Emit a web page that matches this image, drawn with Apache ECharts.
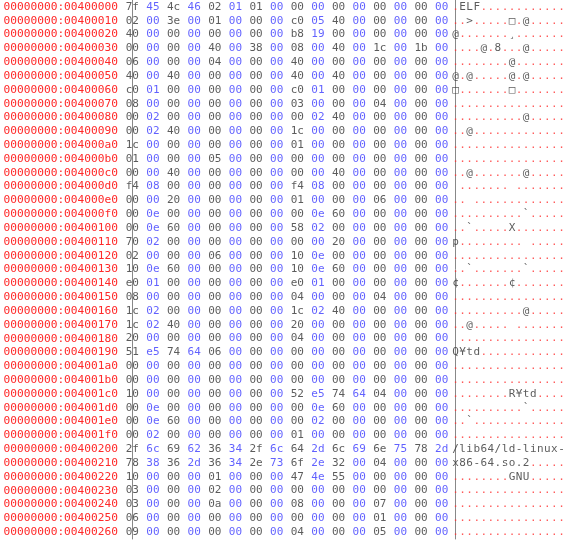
<!DOCTYPE html>
<html><head><meta charset="utf-8">
<script src="https://cdn.jsdelivr.net/npm/echarts@6/dist/echarts.min.js"></script>
<style>html,body{margin:0;padding:0;background:#fff}#c{width:567px;height:540px}</style>
</head><body><div id="c"></div>
<script>
const addresses = [];
for (let i = 0; i < 39; i++) addresses.push('00000000:' + (0x400000 + i * 16).toString(16).padStart(8, '0'));
const hexRows = [
"7f 45 4c 46 02 01 01 00 00 00 00 00 00 00 00 00",
"02 00 3e 00 01 00 00 00 c0 05 40 00 00 00 00 00",
"40 00 00 00 00 00 00 00 b8 19 00 00 00 00 00 00",
"00 00 00 00 40 00 38 00 08 00 40 00 1c 00 1b 00",
"06 00 00 00 04 00 00 00 40 00 00 00 00 00 00 00",
"40 00 40 00 00 00 00 00 40 00 40 00 00 00 00 00",
"c0 01 00 00 00 00 00 00 c0 01 00 00 00 00 00 00",
"08 00 00 00 00 00 00 00 03 00 00 00 04 00 00 00",
"00 02 00 00 00 00 00 00 00 02 40 00 00 00 00 00",
"00 02 40 00 00 00 00 00 1c 00 00 00 00 00 00 00",
"1c 00 00 00 00 00 00 00 01 00 00 00 00 00 00 00",
"01 00 00 00 05 00 00 00 00 00 00 00 00 00 00 00",
"00 00 40 00 00 00 00 00 00 00 40 00 00 00 00 00",
"f4 08 00 00 00 00 00 00 f4 08 00 00 00 00 00 00",
"00 00 20 00 00 00 00 00 01 00 00 00 06 00 00 00",
"00 0e 00 00 00 00 00 00 00 0e 60 00 00 00 00 00",
"00 0e 60 00 00 00 00 00 58 02 00 00 00 00 00 00",
"70 02 00 00 00 00 00 00 00 00 20 00 00 00 00 00",
"02 00 00 00 06 00 00 00 10 0e 00 00 00 00 00 00",
"10 0e 60 00 00 00 00 00 10 0e 60 00 00 00 00 00",
"e0 01 00 00 00 00 00 00 e0 01 00 00 00 00 00 00",
"08 00 00 00 00 00 00 00 04 00 00 00 04 00 00 00",
"1c 02 00 00 00 00 00 00 1c 02 40 00 00 00 00 00",
"1c 02 40 00 00 00 00 00 20 00 00 00 00 00 00 00",
"20 00 00 00 00 00 00 00 04 00 00 00 00 00 00 00",
"51 e5 74 64 06 00 00 00 00 00 00 00 00 00 00 00",
"00 00 00 00 00 00 00 00 00 00 00 00 00 00 00 00",
"00 00 00 00 00 00 00 00 00 00 00 00 00 00 00 00",
"10 00 00 00 00 00 00 00 52 e5 74 64 04 00 00 00",
"00 0e 00 00 00 00 00 00 00 0e 60 00 00 00 00 00",
"00 0e 60 00 00 00 00 00 00 02 00 00 00 00 00 00",
"00 02 00 00 00 00 00 00 01 00 00 00 00 00 00 00",
"2f 6c 69 62 36 34 2f 6c 64 2d 6c 69 6e 75 78 2d",
"78 38 36 2d 36 34 2e 73 6f 2e 32 00 04 00 00 00",
"10 00 00 00 01 00 00 00 47 4e 55 00 00 00 00 00",
"03 00 00 00 02 00 00 00 00 00 00 00 00 00 00 00",
"03 00 00 00 0a 00 00 00 08 00 00 00 07 00 00 00",
"06 00 00 00 00 00 00 00 00 00 00 00 01 00 00 00",
"09 00 00 00 00 00 00 00 04 00 00 00 05 00 00 00"
];
const specialGlyphs = {0xc0: '\u25a1', 0xe0: '\u00a2', 0xe5: '\u00a5', 0xb8: '\u00b8', 0xf4: ' '};

const even = [], odd = [], dots = [], chars = [];
hexRows.forEach((r, y) => {
  r.split(' ').forEach((h, x) => {
    (x % 2 ? odd : even).push([x, y, h]);
    const b = parseInt(h, 16);
    let ch;
    if (specialGlyphs[b] !== undefined) ch = specialGlyphs[b];
    else if (b >= 0x20 && b < 0x7f) ch = String.fromCharCode(b);
    else ch = null;
    if (ch === null) dots.push([x, y, '.']);
    else if (ch !== ' ') chars.push([x, y, ch]);
  });
});
const mono = 'DejaVu Sans Mono';
function txt(data, xi, color, size) {
  return {type: 'scatter', xAxisIndex: xi, yAxisIndex: xi, data, symbolSize: 0, silent: true,
    label: {show: true, position: 'inside', formatter: p => p.value[2], color, fontFamily: mono, fontSize: size}};
}
const chart = echarts.init(document.getElementById('c'));
chart.setOption({
  animation: false,
  grid: [{left: 122, width: 330, top: 0, bottom: 1}, {left: 452, width: 113, top: 0, bottom: 1}],
  xAxis: [0, 1].map(i => ({gridIndex: i, type: 'value', min: -0.5, max: 15.5, show: false})),
  yAxis: [
    {gridIndex: 0, type: 'category', inverse: true, data: addresses, boundaryGap: true,
     axisLine: {show: true, lineStyle: {color: '#888'}}, axisTick: {show: false},
     axisLabel: {interval: 0, color: '#ff2a2a', fontFamily: mono, fontSize: 11.2, margin: 4}},
    {gridIndex: 1, type: 'category', inverse: true, data: addresses, boundaryGap: true,
     axisLine: {show: true, lineStyle: {color: '#888'}}, axisTick: {show: false}, axisLabel: {show: false}}
  ],
  series: [
    txt(even, 0, '#333', 11),
    txt(odd, 0, '#3a3aff', 11),
    txt(dots, 1, '#ff3030', 11),
    txt(chars, 1, '#333', 11)
  ]
});
</script></body></html>
